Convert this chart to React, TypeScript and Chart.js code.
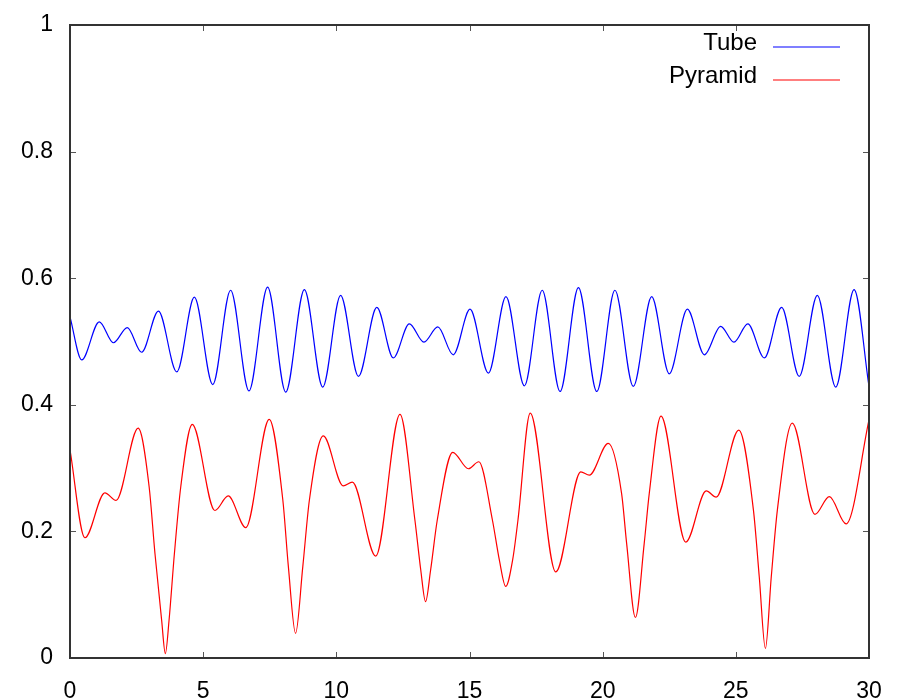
import React, { useEffect, useRef } from "react";
import { Chart, registerables } from "chart.js";

Chart.register(...registerables);

const seriesNames = ["Tube", "Pyramid"];
const seriesColors = ["rgb(0,0,255)", "rgb(255,0,0)"];

const tubeX = [0, 0.44, 1.1, 1.63, 2.15, 2.69, 3.32, 4.01, 4.67, 5.36, 6.03, 6.72, 7.42, 8.1, 8.8, 9.49, 10.16, 10.83, 11.52, 12.14, 12.74, 13.29, 13.81, 14.39, 15.02, 15.71, 16.37, 17.06, 17.73, 18.4, 19.09, 19.78, 20.46, 21.15, 21.84, 22.5, 23.18, 23.82, 24.43, 24.93, 25.45, 26.07, 26.72, 27.38, 28.06, 28.75, 29.44, 30];
const tubeY = [0.539, 0.471, 0.531, 0.498, 0.522, 0.483, 0.548, 0.452, 0.57, 0.432, 0.581, 0.422, 0.586, 0.42, 0.582, 0.428, 0.573, 0.445, 0.554, 0.474, 0.528, 0.499, 0.523, 0.479, 0.551, 0.45, 0.571, 0.43, 0.581, 0.421, 0.585, 0.421, 0.581, 0.429, 0.571, 0.449, 0.551, 0.479, 0.524, 0.499, 0.528, 0.474, 0.554, 0.445, 0.573, 0.428, 0.582, 0.429];

const pyramidX = [0, 0.56, 1.31, 1.73, 2.56, 2.97, 3.19, 3.44, 3.58, 3.72, 3.92, 4.16, 4.59, 5.44, 5.94, 6.6, 7.48, 7.99, 8.2, 8.47, 8.74, 8.99, 9.51, 10.26, 10.6, 11.48, 12.39, 12.95, 13.17, 13.35, 13.54, 13.79, 14.37, 14.96, 15.35, 15.86, 16.12, 16.36, 16.62, 16.82, 17.28, 18.24, 19.18, 19.5, 20.21, 20.71, 20.9, 21.23, 21.56, 21.75, 22.19, 23.12, 23.89, 24.26, 25.11, 25.66, 25.88, 26.11, 26.33, 26.56, 27.12, 27.97, 28.51, 29.14, 30];
const pyramidY = [0.329, 0.19, 0.261, 0.249, 0.363, 0.271, 0.165, 0.06, 0.007, 0.06, 0.165, 0.271, 0.369, 0.233, 0.256, 0.206, 0.377, 0.25, 0.144, 0.039, 0.144, 0.25, 0.351, 0.272, 0.278, 0.161, 0.385, 0.218, 0.139, 0.089, 0.139, 0.218, 0.325, 0.299, 0.31, 0.218, 0.155, 0.113, 0.155, 0.218, 0.387, 0.136, 0.294, 0.289, 0.339, 0.26, 0.181, 0.064, 0.181, 0.26, 0.382, 0.183, 0.264, 0.254, 0.36, 0.234, 0.128, 0.015, 0.128, 0.234, 0.371, 0.227, 0.255, 0.212, 0.376];

const xTicks = [0, 5, 10, 15, 20, 25, 30];
const yTicks = [0, 0.2, 0.4, 0.6, 0.8, 1];

const FONT = "'Liberation Sans', Arial, Helvetica, sans-serif";

const framePlugin = {
  id: "gnuFrame",
  afterDraw(chart: any) {
    const { ctx, chartArea: a, scales } = chart;
    ctx.save();
    ctx.strokeStyle = "#555";
    ctx.lineWidth = 1;
    const tl = 6;
    ctx.beginPath();
    xTicks.forEach((v) => {
      const px = Math.round(scales.x.getPixelForValue(v)) + 0.5;
      ctx.moveTo(px, a.bottom);
      ctx.lineTo(px, a.bottom - tl);
      ctx.moveTo(px, a.top);
      ctx.lineTo(px, a.top + tl);
    });
    yTicks.forEach((v) => {
      const py = Math.round(scales.y.getPixelForValue(v)) + 0.5;
      ctx.moveTo(a.left, py);
      ctx.lineTo(a.left + tl, py);
      ctx.moveTo(a.right, py);
      ctx.lineTo(a.right - tl, py);
    });
    ctx.stroke();
    ctx.strokeStyle = "#333";
    ctx.lineWidth = 2;
    ctx.strokeRect(a.left, a.top, a.right - a.left, a.bottom - a.top);

    // legend
    ctx.font = "24px " + FONT;
    ctx.fillStyle = "#000";
    ctx.textAlign = "right";
    ctx.textBaseline = "middle";
    const textRight = a.right - 112;
    const lineStart = a.right - 96;
    const lineEnd = a.right - 29;
    const rows = [43, 76];
    seriesNames.forEach((name, i) => {
      ctx.fillText(name, textRight, rows[i]);
      ctx.strokeStyle = seriesColors[i];
      ctx.lineWidth = 1.2;
      ctx.beginPath();
      ctx.moveTo(lineStart, rows[i] + 4);
      ctx.lineTo(lineEnd, rows[i] + 4);
      ctx.stroke();
    });
    ctx.restore();
  },
};

export default function App() {
  const ref = useRef<HTMLCanvasElement>(null);
  useEffect(() => {
    if (!ref.current) return;
    const mk = (xs: number[], ys: number[]) => xs.map((x, i) => ({ x, y: ys[i] }));
    const chart = new Chart(ref.current, {
      type: "line",
      data: {
        datasets: [
          {
            label: seriesNames[0],
            data: mk(tubeX, tubeY),
            borderColor: seriesColors[0],
            borderWidth: 1.2,
            pointRadius: 0,
            cubicInterpolationMode: "monotone",
            fill: false,
          },
          {
            label: seriesNames[1],
            data: mk(pyramidX, pyramidY),
            borderColor: seriesColors[1],
            borderWidth: 1.2,
            pointRadius: 0,
            cubicInterpolationMode: "monotone",
            fill: false,
          },
        ],
      },
      options: {
        animation: false,
        responsive: false,
        maintainAspectRatio: false,
        layout: { padding: { top: 25, right: 36, left: 0, bottom: 0 } },
        plugins: { legend: { display: false }, tooltip: { enabled: false } },
        scales: {
          x: {
            type: "linear",
            min: 0,
            max: 30,
            afterBuildTicks: (s: any) => {
              s.ticks = xTicks.map((v) => ({ value: v }));
            },
            afterFit: (s: any) => {
              s.height = 42;
              s.paddingLeft = 0;
              s.paddingRight = 0;
              s.paddingTop = 0;
              s.paddingBottom = 0;
            },
            ticks: {
              color: "#000",
              font: { size: 23, family: FONT },
              padding: 20,
              maxRotation: 0,
              autoSkip: false,
              callback: (v: any) => String(v),
            },
            grid: { display: false, drawTicks: false },
            border: { display: false },
          },
          y: {
            min: 0,
            max: 1,
            afterBuildTicks: (s: any) => {
              s.ticks = yTicks.map((v) => ({ value: v }));
            },
            afterFit: (s: any) => {
              s.width = 70;
              s.paddingLeft = 0;
              s.paddingRight = 0;
              s.paddingTop = 0;
              s.paddingBottom = 0;
            },
            ticks: {
              color: "#000",
              font: { size: 23, family: FONT },
              padding: 17,
              autoSkip: false,
              callback: (v: any) => String(Number(Number(v).toFixed(1))),
            },
            grid: { display: false, drawTicks: false },
            border: { display: false },
          },
        },
      },
      plugins: [framePlugin],
    });
    return () => chart.destroy();
  }, []);
  return (
    <div style={{ position: "fixed", left: 0, top: 0, width: 905, height: 700, background: "#fff" }}>
      <canvas ref={ref} width={905} height={700} style={{ display: "block" }} />
    </div>
  );
}
